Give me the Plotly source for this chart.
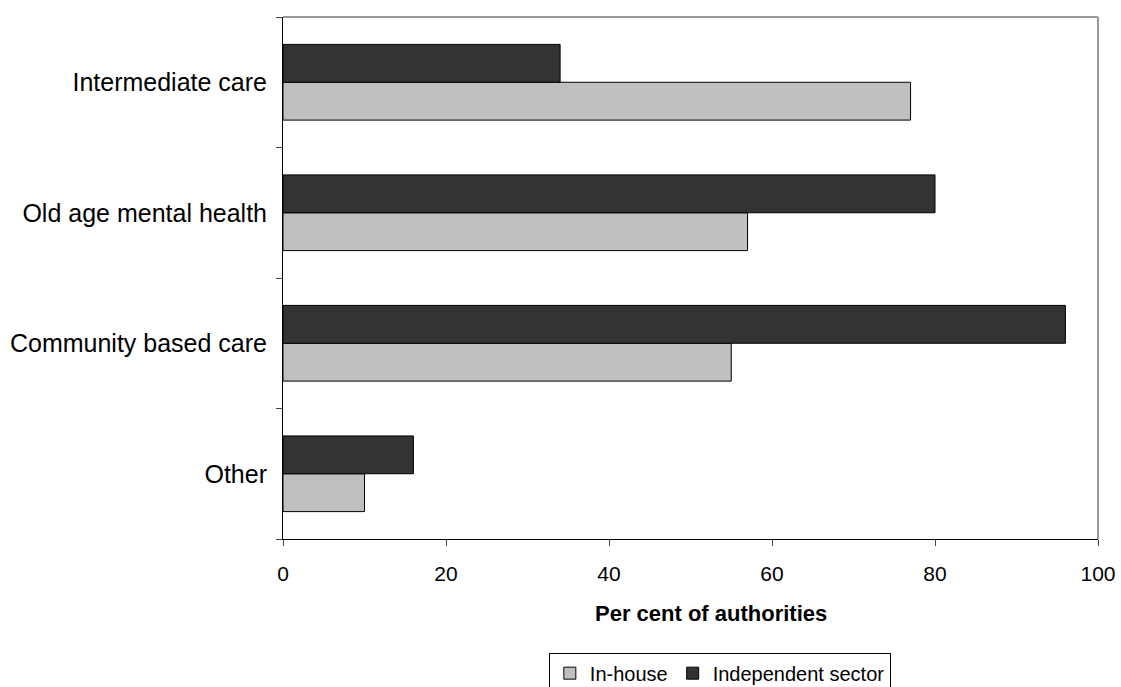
import plotly.graph_objects as go

# Care categories listed bottom-to-top
categories = ["Other", "Community based care", "Old age mental health", "Intermediate care"]
in_house = [10, 55, 57, 77]
independent = [16, 96, 80, 34]
x_ticks = [0, 20, 40, 60, 80, 100]

fig = go.Figure()
fig.add_trace(go.Bar(
    y=categories, x=in_house, orientation="h", name="In-house",
    marker=dict(color="#c0c0c0", line=dict(color="#000000", width=1)),
))
fig.add_trace(go.Bar(
    y=categories, x=independent, orientation="h", name="Independent sector",
    marker=dict(color="#333333", line=dict(color="#000000", width=1)),
))

fig.update_layout(
    width=1121, height=687,
    margin=dict(l=283, r=23, t=17, b=148),
    barmode="group", bargap=0.42, bargroupgap=0,
    plot_bgcolor="white", paper_bgcolor="white",
    font=dict(family="Liberation Sans, Arial, sans-serif", size=20, color="#000000"),
    xaxis=dict(
        range=[0, 100], tickvals=x_ticks, ticks="outside", ticklen=6,
        tickfont=dict(size=21), ticklabelstandoff=10,
        showline=True, linecolor="#000000", linewidth=1, showgrid=False,
        zeroline=False, mirror=False, automargin=False,
    ),
    yaxis=dict(
        type="category", tickson="boundaries", ticks="outside", ticklen=6,
        tickfont=dict(size=25), automargin=False, ticklabelstandoff=10,
        showline=True, linecolor="#000000", linewidth=1, showgrid=False,
    ),
    legend=dict(
        orientation="h", x=0.536, xanchor="center",
        yref="container", y=0.05, yanchor="top",
        bordercolor="#000000", borderwidth=1, font=dict(size=20),
        traceorder="normal", itemwidth=30, tracegroupgap=0,
    ),
    annotations=[
        dict(text="<b>Per cent of authorities</b>", xref="paper", yref="paper",
             x=0.525, y=-0.143, xanchor="center", yanchor="middle",
             showarrow=False, font=dict(size=22)),
    ],
    shapes=[
        dict(type="line", xref="paper", yref="paper", x0=0, x1=1, y0=1, y1=1,
             line=dict(color="#999999", width=2)),
        dict(type="line", xref="paper", yref="paper", x0=1, x1=1, y0=0, y1=1,
             line=dict(color="#999999", width=2)),
    ],
)

fig.write_html("out.html")
